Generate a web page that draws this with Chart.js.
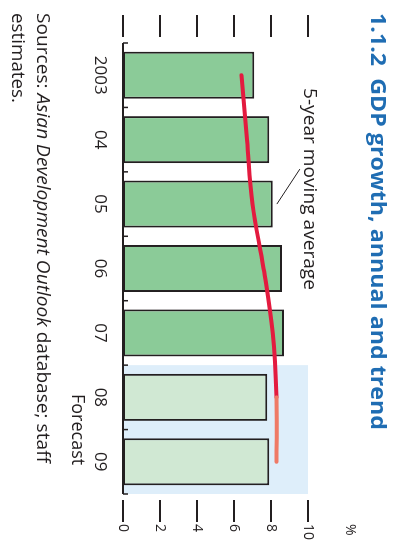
<!DOCTYPE html>
<html lang="en">
<head>
  <meta charset="UTF-8">
  <title>GDP growth, annual and trend</title>
  <style>
    html, body { margin: 0; padding: 0; background: #fff; overflow: hidden; }
    /* chart is drawn landscape and turned a quarter clockwise, like the printed page */
    #wrap {
      position: absolute; left: 0; top: 0; width: 541px; height: 394px;
      transform-origin: 0 0;
      transform: translateX(394px) rotate(90deg);
    }
  </style>
</head>
<body>

  <div id="wrap">
    <canvas id="myChart" width="541" height="394"></canvas>
  </div>

  <script src="https://cdn.jsdelivr.net/npm/chart.js"></script>

  <script>
    const categories = ['2003', '04', '05', '06', '07', '08', '09'];
    const growth = [7.1, 7.9, 8.1, 8.6, 8.7, 7.8, 7.9];      // annual GDP growth, %
    const movingAvg = [6.4, 6.7, 7.0, 7.6, 8.1, 8.3, 8.3];   // 5-year moving average, %
    const forecastFrom = 5;                                  // first forecast year (08)
    const valueTicks = [0, 2, 4, 6, 8, 10];

    const ink = '#231f20';
    const green = '#8bcb98';
    const greenLight = '#d0e8d3';
    const shade = '#deeefa';

    Chart.defaults.font.family = '"Open Sans", sans-serif';
    Chart.defaults.color = ink;

    // draw text pieces squeezed to a given width
    function fitText(ctx, parts, x, y, width) {
      let total = 0;
      parts.forEach(p => { ctx.font = p[0]; total += ctx.measureText(p[1]).width; });
      ctx.save();
      ctx.translate(x, y);
      ctx.scale(width / total, 1);
      let cx = 0;
      parts.forEach(p => {
        ctx.font = p[0];
        ctx.fillText(p[1], cx, 0);
        cx += ctx.measureText(p[1]).width;
      });
      ctx.restore();
    }

    const extras = {
      id: 'extras',
      beforeDatasetsDraw(chart) {
        const { ctx, chartArea: a, scales: { x, y } } = chart;
        // forecast shading
        const x0 = (x.getPixelForValue(forecastFrom - 1) + x.getPixelForValue(forecastFrom)) / 2;
        const yTop = y.getPixelForValue(10);
        ctx.save();
        ctx.fillStyle = shade;
        ctx.fillRect(x0, yTop, a.right - x0, y.getPixelForValue(0) - yTop);
        ctx.restore();
      },
      afterDatasetsDraw(chart) {
        const { ctx, chartArea: a, scales: { x, y } } = chart;
        ctx.save();
        ctx.strokeStyle = ink;

        // category axis with small inner ticks between years
        ctx.lineWidth = 2;
        ctx.beginPath();
        ctx.moveTo(a.left, a.bottom);
        ctx.lineTo(a.right, a.bottom);
        ctx.stroke();
        ctx.lineWidth = 1.5;
        const step = a.width / categories.length;
        for (let i = 0; i <= categories.length; i++) {
          const px = a.left + i * step;
          ctx.beginPath();
          ctx.moveTo(px, a.bottom);
          ctx.lineTo(px, a.bottom - 5);
          ctx.stroke();
        }

        // value ticks on both sides
        ctx.lineWidth = 2;
        valueTicks.forEach(v => {
          const py = y.getPixelForValue(v);
          ctx.beginPath();
          ctx.moveTo(15, py); ctx.lineTo(37, py);
          ctx.moveTo(a.right + 6, py); ctx.lineTo(a.right + 28, py);
          ctx.stroke();
        });

        // leader line for the moving average label
        const lx = x.getPixelForValue(2);
        const ly = y.getPixelForValue(growth[2]);
        ctx.lineWidth = 1;
        ctx.beginPath();
        ctx.moveTo(lx, ly - 4);
        ctx.lineTo(lx - 35, ly - 27);
        ctx.stroke();

        // texts
        ctx.fillStyle = ink;
        ctx.textBaseline = 'alphabetic';
        fitText(ctx, [['18px "Open Sans"', '5-year moving average']], 88, 90, 202);

        const fx = (x.getPixelForValue(forecastFrom) + x.getPixelForValue(forecastFrom + 1)) / 2;
        ctx.font = '18px "Open Sans"';
        ctx.textAlign = 'center';
        ctx.fillText('Forecast', fx, 322);
        ctx.textAlign = 'left';

        ctx.font = '14px "Open Sans"';
        ctx.textBaseline = 'middle';
        ctx.fillText('%', 524, 44);
        ctx.textBaseline = 'alphabetic';

        fitText(ctx, [
          ['18px "Open Sans"', 'Sources: '],
          ['italic 18px "Open Sans"', 'Asian Development Outlook'],
          ['18px "Open Sans"', ' database; staff']
        ], 13, 357, 450);
        fitText(ctx, [['18px "Open Sans"', 'estimates.']], 13, 382, 90);

        ctx.fillStyle = '#1f6db3';
        fitText(ctx, [['bold 22px "Open Sans"', '1.1.2  GDP growth, annual and trend']], 13, 23, 417);
        ctx.restore();
      }
    };

    const data = {
      labels: categories,
      datasets: [
        {
          type: 'line',
          label: '5-year moving average',
          data: movingAvg,
          borderColor: '#e31b3f',
          borderWidth: 4,
          borderCapStyle: 'round',
          pointRadius: 0,
          tension: 0.4,
          order: 1,
          segment: {
            borderColor: c => c.p0DataIndex >= forecastFrom ? '#ef7a66' : '#e31b3f'
          }
        },
        {
          type: 'bar',
          label: 'GDP growth',
          data: growth,
          backgroundColor: c => c.dataIndex >= forecastFrom ? greenLight : green,
          borderColor: ink,
          borderWidth: 2,
          borderSkipped: false,
          barPercentage: 0.73,
          categoryPercentage: 1,
          order: 2
        }
      ]
    };

    const config = {
      data: data,
      options: {
        responsive: false,
        animation: false,
        layout: { padding: { left: 43, top: 86, right: 0, bottom: 0 } },
        plugins: {
          legend: { display: false },
          tooltip: { enabled: false }
        },
        scales: {
          x: {
            offset: true,
            grid: { display: false, drawTicks: false },
            border: { display: false },
            ticks: { font: { size: 17 }, padding: 13 },
            afterFit: s => { s.height = 123; }
          },
          y: {
            position: 'right',
            min: 0,
            max: 10,
            grid: { display: false, drawTicks: false },
            border: { display: false },
            ticks: { stepSize: 2, font: { size: 14 }, padding: 30 },
            afterFit: s => { s.width = 47; }
          }
        }
      },
      plugins: [extras]
    };

    const myChart = new Chart(document.getElementById('myChart'), config);
  </script>

</body>
</html>
